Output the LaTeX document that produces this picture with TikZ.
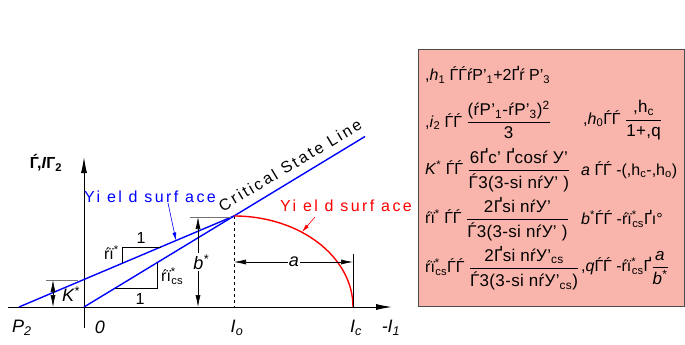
\documentclass[tikz,border=0pt]{standalone}
\usepackage{amsmath}
\usepackage{fontspec}
\setmainfont{Liberation Sans}
\usetikzlibrary{arrows.meta}

\definecolor{boxpink}{RGB}{249,181,171}
\newcommand\sbs[1]{\textsubscript{#1}}
\newcommand\sps[1]{\textsuperscript{#1}}
\newcommand\spsb[2]{\textsuperscript{\rlap{#1}}\textsubscript{#2}}
\newcommand\frc[2]{{\fontsize{17}{19}\selectfont\addfontfeature{LetterSpace=2}%
  $\genfrac{}{}{0.9pt}{0}{\hbox{#1}}{\hbox{#2}}$}}

\begin{document}
\begin{tikzpicture}[
    x=1pt, y=-1pt,
    axis/.style={line width=0.9pt, -{Latex[length=16pt,width=6pt]}},
    dim/.style={line width=0.6pt, {Latex[length=12pt,width=5pt]}-{Latex[length=12pt,width=5pt]}},
    tickline/.style={line width=0.9pt, black!55},
    thin/.style={line width=0.6pt},
    bluel/.style={blue, line width=1.4pt},
    redl/.style={red, line width=1.4pt},
    lbl/.style={font=\fontsize{18}{20}\selectfont\itshape, inner sep=1pt},
    tag/.style={font=\fontsize{16}{18}\selectfont\addfontfeature{LetterSpace=15}, inner sep=0pt},
    eq/.style={font=\fontsize{16}{18}\selectfont, inner sep=0pt, anchor=west}
  ]
    \useasboundingbox (0,0) rectangle (685,345);

    % formula box
    \node[draw=black!70, line width=1pt, fill=boxpink, minimum width=266pt, minimum height=257pt,
      anchor=north west, inner sep=0pt] (eqbox) at (418,49) {};

    % points
    \coordinate (O) at (84,307);
    \coordinate (P2) at (19,307);
    \coordinate (X) at (234,216);
    \coordinate (Io) at (234,307);
    \coordinate (Ic) at (353,307);
    \coordinate (CE) at (365,136.5);
    \coordinate (xs) at (8,307);
    \coordinate (xe) at (392,307);
    \coordinate (ys) at (84,328);
    \coordinate (ye) at (84,157);

    % axes
    \draw[axis] (xs) -- (xe);
    \draw[axis] (ys) -- (ye);

    % yield surface and critical state line
    \draw[dashed, thin] (X) -- (Io);
    \draw[bluel] (P2) -- (X);
    \draw[bluel] (O) -- (CE);
    \draw[redl] (X) arc[start angle=-90, end angle=0, x radius=119, y radius=91];

    % slope triangles
    \draw[thin] (122,263.4) -- (122,247) -- (161,247);
    \draw[thin] (115.3,288) -- (157,288) -- (157,262.7);
    \node[lbl, font=\fontsize{16}{18}\selectfont] (one1) at (141,238) {1};
    \node[lbl, font=\fontsize{16}{18}\selectfont] (one2) at (140,299) {1};
    \node[eq, anchor=east] (slp) at (119,253) {ŕï\sps{*}};
    \node[eq] (slpcs) at (161,276) {ŕï\spsb{*}{cs}};

    % K*
    \coordinate (kt) at (53,280);
    \coordinate (kb) at (53,307);
    \draw[tickline] (46,280) -- (78,280);
    \draw[dim] (kb) -- (kt);
    \node[lbl, anchor=west] (klbl) at (61,294) {K\sps{*}};

    % b*
    \coordinate (bt) at (198,217);
    \coordinate (bb) at (198,307);
    \draw[tickline] (190,217) -- (231,217);
    \draw[dim] (bb) -- (bt);
    \node[lbl, fill=white] (blbl) at (201,262) {b\sps{*}};

    % a
    \coordinate (al) at (234,262);
    \coordinate (ar) at (353,262);
    \draw[thin] (353,254) -- (Ic);
    \draw[dim] (al) -- (ar);
    \node[lbl, fill=white] (albl) at (294,262) {a};

    % labels
    \node[tag, text=blue] (ysb) at (150,197) {Yi el d surf ace};
    \node[tag, text=red] (ysr) at (346,206) {Yi el d surf ace};
    \draw[blue, thin, -{Latex[length=8pt,width=4pt]}] (168,203) -- (176,240.5);
    \draw[red, thin, -{Latex[length=8pt,width=4pt]}] (315,217) -- (302,232);
    \node[tag, rotate=31] (csl) at (290,165) {Critical State Line};
    \node[font=\fontsize{16}{18}\selectfont\bfseries] (ylbl) at (46,163) {Ѓ,\textit{I}Г\sbs{2}};

    \node[lbl] (p2) at (22,328) {P\sbs{2}};
    \node[lbl] (zero) at (100,327) {0};
    \node[lbl] (io) at (237,328) {I\sbs{o}};
    \node[lbl] (ic) at (356,328) {I\sbs{c}};
    \node[lbl] (i1) at (391,328) {-I\sbs{1}};

    % formulas
    \node[eq] (r1) at (425,75) {,\textit{h}\sbs{1} ЃЃŕP'\sbs{1}+2Ґŕ P'\sbs{3}};
    \node[eq] (r2a) at (425,120) {,\textit{i}\sbs{2} ЃЃ \frc{(ŕP'\sbs{1}-ŕP'\sbs{3})\sps{2}}{3}};
    \node[eq] (r2b) at (583,120) {,\textit{h}\sbs{0}ЃЃ \frc{,h\sbs{c}}{1+,q}};
    \node[eq] (r3a) at (425,170) {\textit{K}\sps{*} ЃЃ \frc{6Ґc' Ґcosŕ У'}{Ѓ3(3-si nŕУ' )}};
    \node[eq] (r3b) at (581,170) {\textit{a} ЃЃ -(,h\sbs{c}-,h\sbs{o})};
    \node[eq] (r4a) at (425,219) {ŕï\sps{*} ЃЃ \frc{2Ґsi nŕУ'}{Ѓ3(3-si nŕУ' )}};
    \node[eq] (r4b) at (581,219) {\textit{b}\sps{*}ЃЃ -ŕï\spsb{*}{cs}Ґı°};
    \node[eq] (r5a) at (425,268) {ŕï\spsb{*}{cs}ЃЃ \frc{2Ґsi nŕУ'\sbs{cs}}{Ѓ3(3-si nŕУ'\sbs{cs})}};
    \node[eq] (r5b) at (581,268) {,\textit{q}ЃЃ -ŕï\spsb{*}{cs}Ґ\frc{\textit{a}}{\textit{b}\sps{*}}};
  \end{tikzpicture}
\end{document}
